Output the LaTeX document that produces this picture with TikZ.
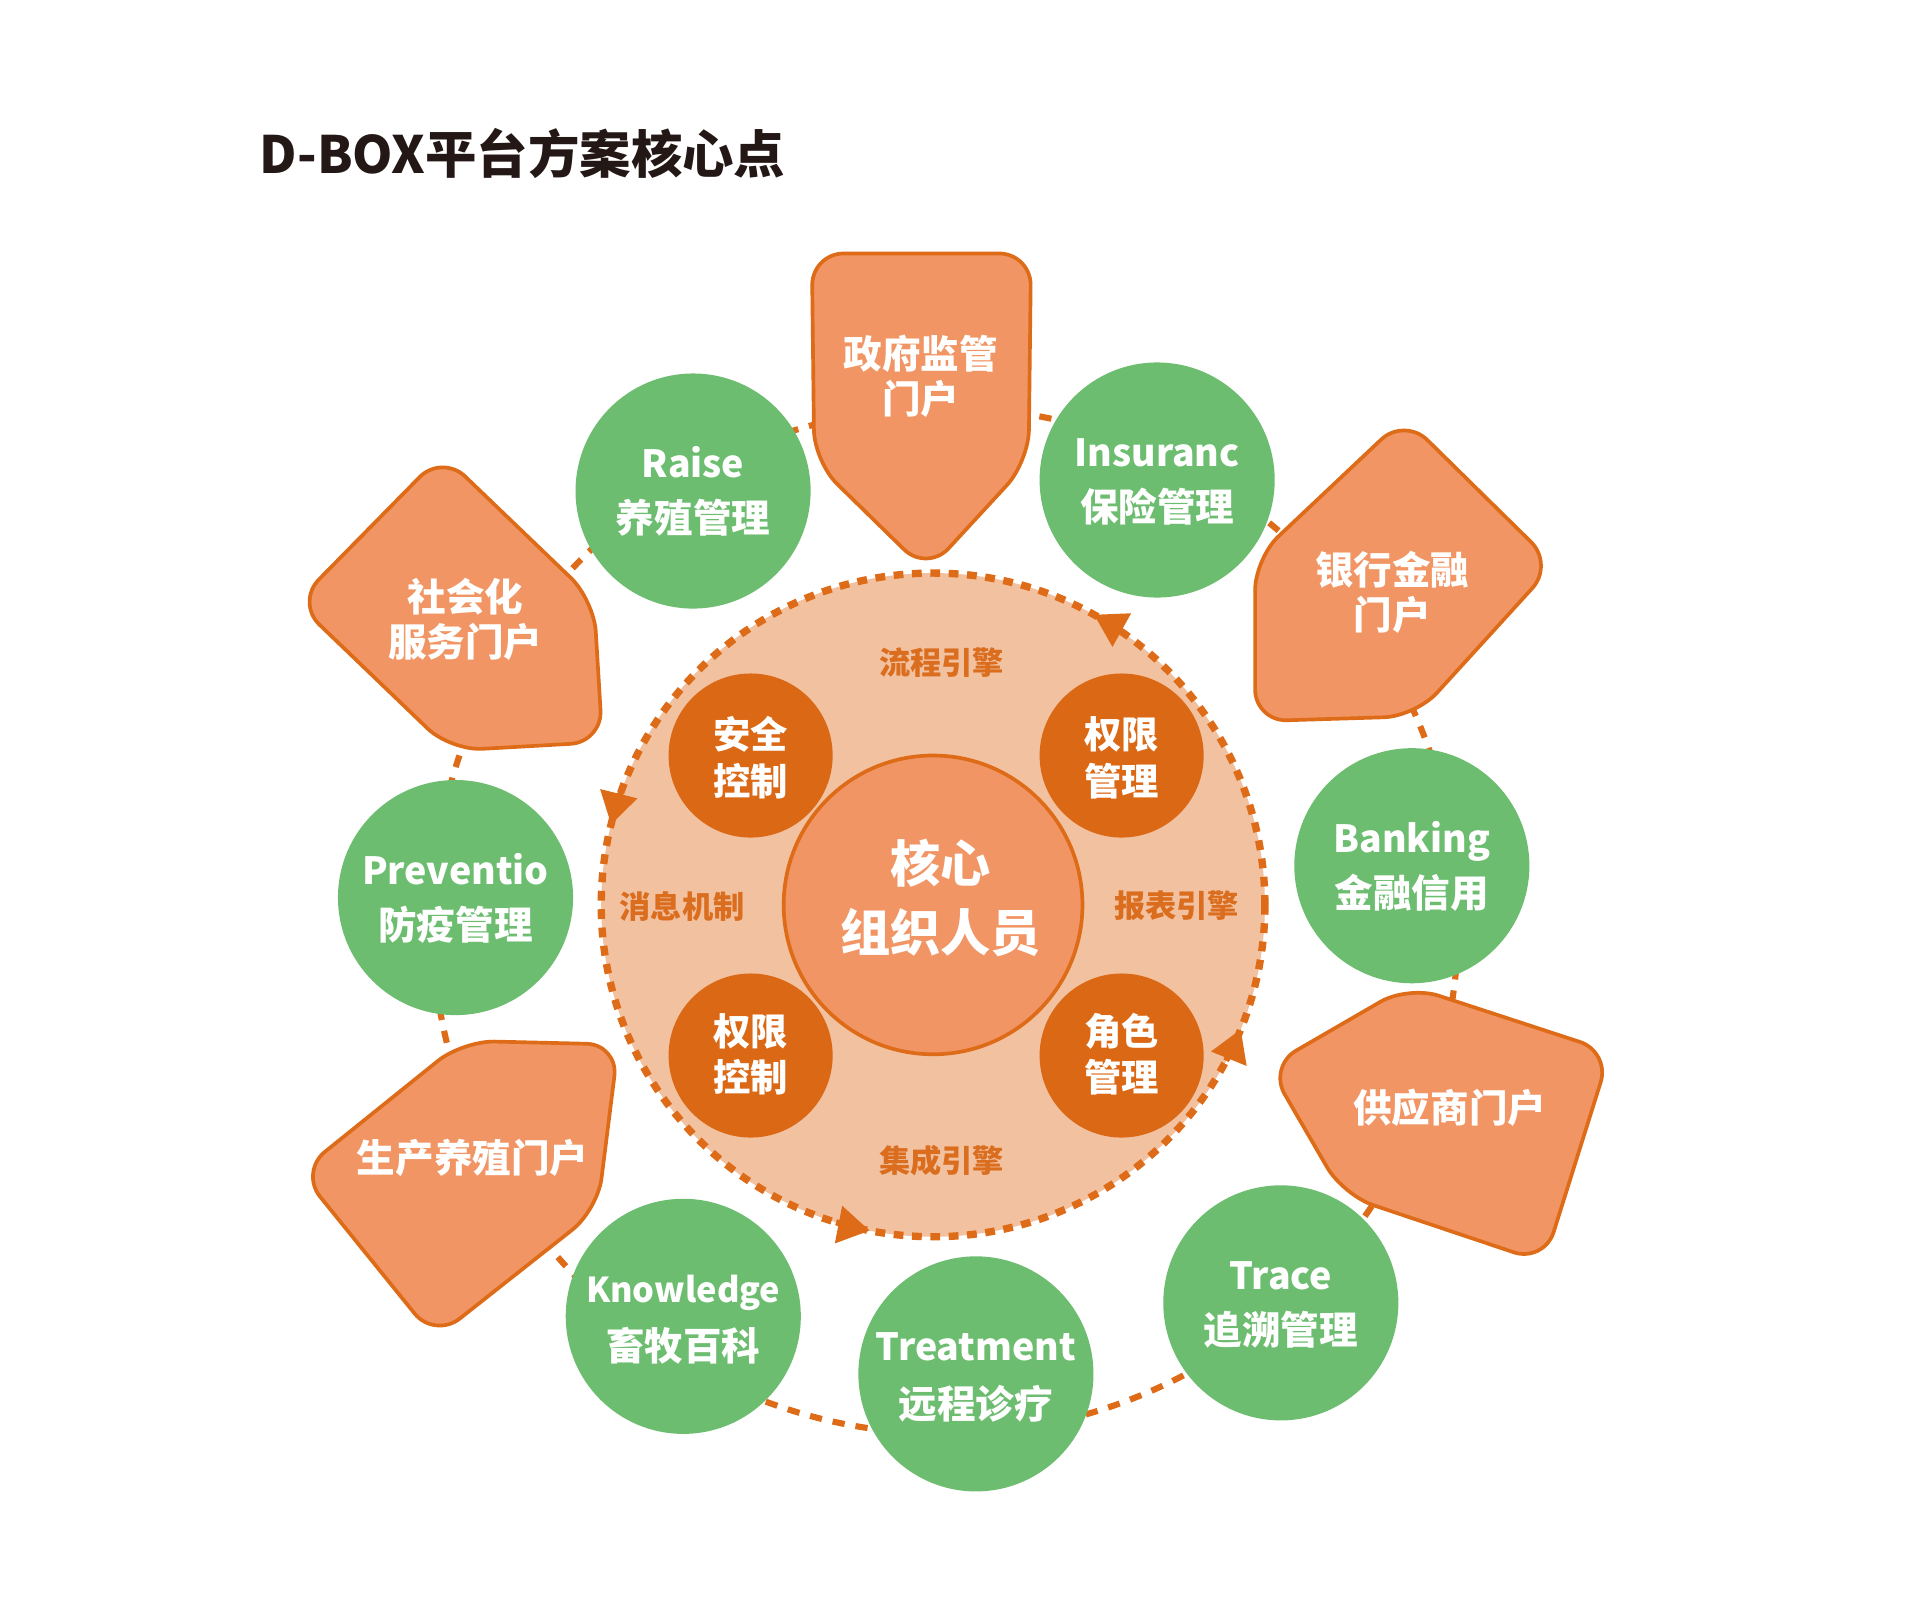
\documentclass[tikz,border=0pt]{standalone}
\usepackage{fontspec}
\setmainfont{Noto Sans CJK SC}
\usetikzlibrary{arrows.meta}
\definecolor{greenc}{HTML}{6CBD6F}
\definecolor{salmon}{HTML}{F19564}
\definecolor{peach}{HTML}{F2C1A0}
\definecolor{darko}{HTML}{DA6815}
\definecolor{edgeo}{HTML}{DD6B17}
\definecolor{labelo}{HTML}{DA6D1E}
\definecolor{titlec}{HTML}{231815}
\begin{document}
\begin{tikzpicture}[x=1pt,y=-1pt,
  greencircle/.style={circle, fill=greenc, minimum size=192pt, inner sep=0pt},
  darkcircle/.style={circle, fill=darko, minimum size=134pt, inner sep=0pt},
  portal/.style={fill=salmon, draw=edgeo, line width=3pt, rounded corners=26pt, line join=round},
  entxt/.style={text=white, font=\fontsize{30.6}{30.6}\selectfont\bfseries, anchor=base, inner sep=0pt},
  cntxt/.style={text=white, font=\fontsize{31.5}{31.5}\selectfont\bfseries, inner sep=0pt},
  darktxt/.style={text=white, font=\fontsize{30.5}{30.5}\selectfont\bfseries, inner sep=0pt},
  coretxt/.style={text=white, font=\fontsize{41}{41}\selectfont\bfseries, inner sep=0pt},
  enginetxt/.style={text=labelo, font=\fontsize{25.5}{25.5}\selectfont\bfseries, inner sep=0pt},
  ringarrow/.style={edgeo, line width=5pt, -{Triangle[width=30pt,length=26pt]}}
]
\useasboundingbox (0,0) rectangle (1568,1322);
\fill[white] (0,0) rectangle (1568,1322);

% title
\node[anchor=west, text=titlec, font=\fontsize{42}{42}\selectfont\bfseries, inner sep=0pt] (title) at (212,125) {D-BOX平台方案核心点};

% outer dashed ring
\coordinate (ringc) at (772,752);
\draw[edgeo, line width=5pt, dash pattern=on 10pt off 9pt] (ringc) circle[radius=419];

% engine circle
\node[circle, minimum size=542pt, inner sep=0pt, fill=peach, draw=edgeo, line width=6pt, dash pattern=on 8pt off 7pt] (engine) at (762,739) {};
\foreach \a in {-61,22,101,194}
  \draw[ringarrow] ([shift={(\a+6:271)}]engine.center) arc[start angle=\a+6, end angle=\a, radius=271];

% core
\node[circle, minimum size=244pt, inner sep=0pt, fill=salmon, draw=edgeo, line width=3pt] (core) at (762,739) {};
\node[coretxt] (coreA) at (768,705) {核心};
\node[coretxt] (coreB) at (768,762) {组织人员};

% engine labels
\node[enginetxt] (flow) at (769,541) {流程引擎};
\node[enginetxt] (report) at (961,740) {报表引擎};
\node[enginetxt] (integ) at (769,948) {集成引擎};
\node[enginetxt] (msg) at (557,740) {消息机制};

% dark circles
\node[darkcircle] (sec) at (613,617) {};
\node[darktxt] (secA) at (613,600) {安全};
\node[darktxt] (secB) at (613,638) {控制};
\node[darkcircle] (perm) at (916,617) {};
\node[darktxt] (permA) at (916,600) {权限};
\node[darktxt] (permB) at (916,638) {管理};
\node[darkcircle] (permc) at (613,862) {};
\node[darktxt] (permcA) at (613,842) {权限};
\node[darktxt] (permcB) at (613,880) {控制};
\node[darkcircle] (role) at (916,862) {};
\node[darktxt] (roleA) at (916,842) {角色};
\node[darktxt] (roleB) at (916,880) {管理};

% portals
\draw[portal] (663,207) -- (842,207) -- (840,377) -- (757,467) -- (665,377) -- cycle;
\node[cntxt] (govA) at (752,289) {政府监管};
\node[cntxt] (govB) at (752,326) {门户};

\draw[portal] (1147,341) -- (1269,461) -- (1156,585) -- (1025,589) -- (1025,456) -- cycle;
\node[cntxt] (bankA) at (1137,465) {银行金融};
\node[cntxt] (bankB) at (1137,502) {门户};

\draw[portal] (361,371) -- (485,490) -- (492,606) -- (368,613) -- (242,492) -- cycle;
\node[cntxt] (socA) at (380,487) {社会化};
\node[cntxt] (socB) at (380,524) {服务门户};

\draw[portal] (1150,805) -- (1315,859) -- (1261,1031) -- (1097,976) -- (1036,871) -- cycle;
\node[cntxt] (sup) at (1184,905) {供应商门户};

\draw[portal] (378,850) -- (505,853) -- (488,988) -- (355,1093) -- (245,957) -- cycle;
\node[cntxt] (prod) at (386,946) {生产养殖门户};

% green circles
\node[greencircle] (raise) at (566,401) {};
\node[entxt] (raiseA) at ([yshift=11pt]raise.center) {Raise};
\node[cntxt] (raiseB) at ([yshift=-22pt]raise.center) {养殖管理};

\node[greencircle] (ins) at (945,392) {};
\node[entxt] (insA) at ([yshift=11pt]ins.center) {Insuranc};
\node[cntxt] (insB) at ([yshift=-22pt]ins.center) {保险管理};

\node[greencircle] (banking) at (1153,707) {};
\node[entxt] (bankingA) at ([yshift=11pt]banking.center) {Banking};
\node[cntxt] (bankingB) at ([yshift=-22pt]banking.center) {金融信用};

\node[greencircle] (trace) at (1046,1064) {};
\node[entxt] (traceA) at ([yshift=11pt]trace.center) {Trace};
\node[cntxt] (traceB) at ([yshift=-22pt]trace.center) {追溯管理};

\node[greencircle] (treat) at (797,1122) {};
\node[entxt] (treatA) at ([yshift=11pt]treat.center) {Treatment};
\node[cntxt] (treatB) at ([yshift=-24pt]treat.center) {远程诊疗};

\node[greencircle] (know) at (558,1075) {};
\node[entxt, font=\fontsize{28}{28}\selectfont\bfseries] (knowA) at ([yshift=11pt]know.center) {Knowledge};
\node[cntxt] (knowB) at ([yshift=-24pt]know.center) {畜牧百科};

\node[greencircle] (prev) at (372,733) {};
\node[entxt] (prevA) at ([yshift=11pt]prev.center) {Preventio};
\node[cntxt] (prevB) at ([yshift=-22pt]prev.center) {防疫管理};
\end{tikzpicture}
\end{document}
